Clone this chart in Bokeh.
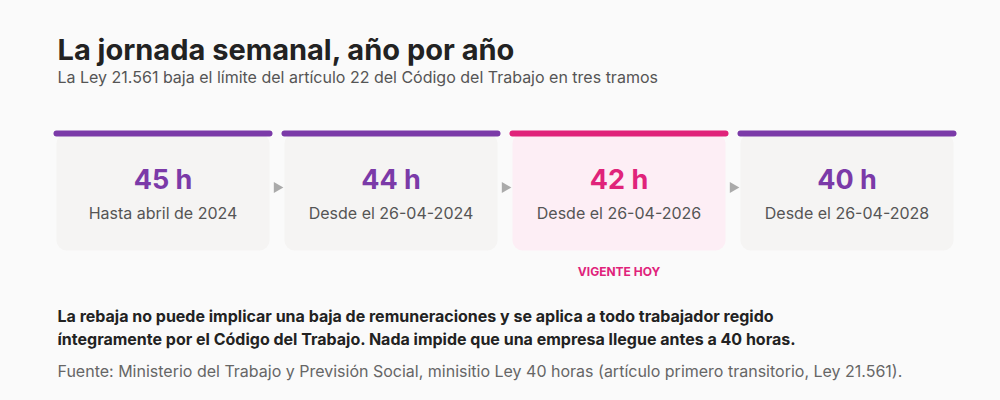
from bokeh.plotting import figure
from bokeh.models import Range1d
from bokeh.core.properties import value
from bokeh.embed import file_html
from bokeh.resources import INLINE

# datos
hours = [45, 44, 42, 40]
hour_labels = [f"{h} h" for h in hours]
periods = ["Hasta abril de 2024", "Desde el 26-04-2024", "Desde el 26-04-2026", "Desde el 26-04-2028"]
is_current = [False, False, True, False]
current_tag = "VIGENTE HOY"

title = "La jornada semanal, año por año"
subtitle = "La Ley 21.561 baja el límite del artículo 22 del Código del Trabajo en tres tramos"
note_lines = [
    "La rebaja no puede implicar una baja de remuneraciones y se aplica a todo trabajador regido",
    "íntegramente por el Código del Trabajo. Nada impide que una empresa llegue antes a 40 horas.",
]
source = "Fuente: Ministerio del Trabajo y Previsión Social, minisitio Ley 40 horas (artículo primero transitorio, Ley 21.561)."

# estilos
FONT = value("Inter")
BG = "#fafafa"
PURPLE = "#7b3aa8"
PINK = "#e0237a"
CARD = "#f5f4f3"
CARD_PINK = "#fdeef5"

W, H = 984, 384
# coordenadas de datos = pixeles de pantalla - 8
p = figure(width=W, height=H, output_backend="svg", toolbar_location=None,
           x_range=Range1d(-8, W - 8), y_range=Range1d(H - 8, -8), min_border=0)
p.axis.visible = False
p.grid.visible = False
p.outline_line_color = None
p.background_fill_color = BG
p.border_fill_color = BG

# geometria de tarjetas
x0, card_w, pitch = 48, 213, 228
top, bottom = 125, 242
n = len(hours)
lefts = [x0 + i * pitch for i in range(n)]
rights = [l + card_w for l in lefts]
centers = [l + card_w / 2 for l in lefts]
accent = [PINK if c else PURPLE for c in is_current]
fills = [CARD_PINK if c else CARD for c in is_current]

p.quad(left=lefts, right=rights, top=[top] * n, bottom=[bottom] * n,
       fill_color=fills, line_color=None, border_radius=10)
p.segment(x0=lefts, x1=rights, y0=[top] * n, y1=[top] * n,
          line_color=accent, line_width=6, line_cap="round")

# flechas entre tarjetas
arrow_x = [r + (pitch - card_w) / 2 for r in rights[:-1]]
p.scatter(x=arrow_x, y=[179] * (n - 1), marker="triangle", angle=-1.5708,
          size=11, fill_color="#aaaaaa", line_color=None)

p.text(x=centers, y=[171] * n, text=hour_labels, text_color=accent,
       text_font=FONT, text_font_style="bold", text_font_size="27px",
       text_align="center", text_baseline="alphabetic")
p.text(x=centers, y=[204] * n, text=periods, text_color="#555555",
       text_font=FONT, text_font_size="16px",
       text_align="center", text_baseline="alphabetic")

cur = [c for c, f in zip(centers, is_current) if f]
p.text(x=cur, y=[263] * len(cur), text=[current_tag] * len(cur), text_color=PINK,
       text_font=FONT, text_font_style="bold", text_font_size="12px",
       text_align="center", text_baseline="alphabetic")

# textos
p.text(x=[49], y=[41], text=[title], text_color="#222222", text_font=FONT,
       text_font_style="bold", text_font_size="29px", text_baseline="alphabetic")
p.text(x=[49], y=[68], text=[subtitle], text_color="#555555", text_font=FONT,
       text_font_size="16px", text_baseline="alphabetic")
p.text(x=[49, 49], y=[307, 330], text=note_lines, text_color="#222222", text_font=FONT,
       text_font_style="bold", text_font_size="16px", text_baseline="alphabetic")
p.text(x=[49], y=[362], text=[source], text_color="#666666", text_font=FONT,
       text_font_size="16px", text_baseline="alphabetic")

html = file_html(p, INLINE)
html = html.replace("<head>", "<head><style>body{background:%s}</style>" % BG, 1)
open("out.html", "w").write(html)
